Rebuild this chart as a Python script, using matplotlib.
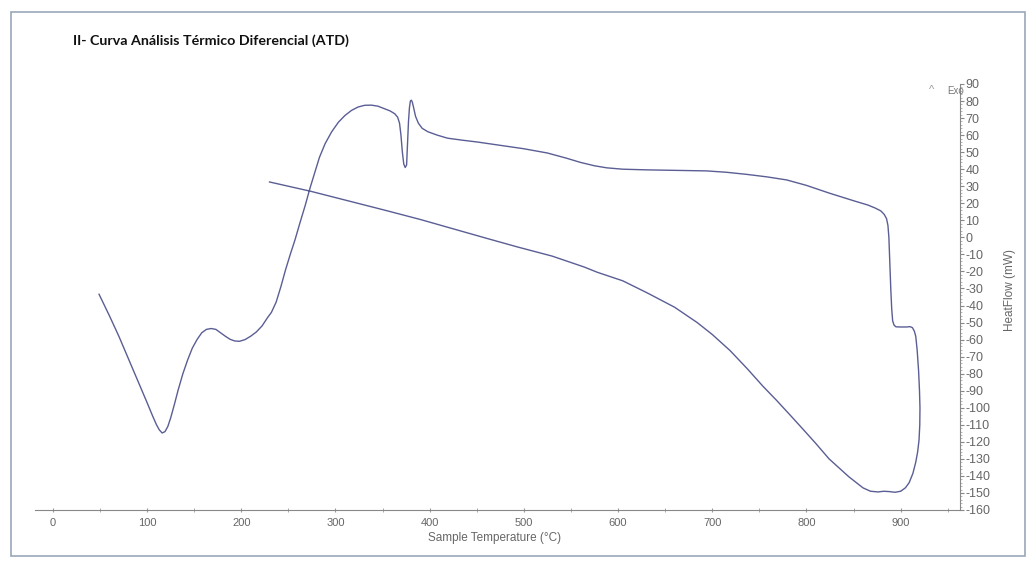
import numpy as np
import matplotlib.pyplot as plt
from matplotlib.patches import Rectangle
from matplotlib.ticker import MultipleLocator

plt.rcParams['axes.unicode_minus'] = False

# curva ATD (calentamiento y luego retorno)
temp = [49, 60, 70, 80, 90, 100, 106, 110, 113, 116, 119, 122, 125, 129, 133, 138,
        143, 148, 153, 158, 163, 168, 173, 178, 183, 188, 193, 198, 204, 210, 216,
        222, 228, 232, 237, 242, 247, 252, 257, 262, 268, 273, 278, 283, 289, 296,
        303, 310, 317, 324, 331, 338, 345, 352, 358, 363, 366, 368, 369.5, 371,
        372.5, 374, 375.5, 376.5, 377.5, 378.5, 379.5, 380.5, 381.5, 383, 385, 388,
        392, 398, 408, 419, 435, 450, 475, 500, 525, 545, 560, 575, 588, 605, 631,
        660, 694, 715, 736, 758, 779, 800, 824, 850, 865, 873, 879, 882.5, 885,
        886.5, 887.5, 888.5, 889.5, 890.5, 891.5, 893, 895, 900, 906, 910, 912.5,
        914.5, 916, 917.5, 919, 920, 920.5, 920.3, 919.5, 918, 916, 913, 909, 905,
        900, 894, 888, 882, 876, 868, 860, 853, 845, 838, 831, 824, 810, 797, 783,
        768, 754, 737, 719, 700, 684, 660, 631, 605, 578, 564, 530, 493, 460, 422,
        390, 352, 313, 274, 250, 230]
heatflow = [-33.4, -46, -58, -71, -84, -97, -105, -110, -113, -114.8, -114, -111,
            -106, -98, -89.5, -80, -72, -65, -60, -56, -54, -53.5, -54, -56, -58,
            -59.8, -60.8, -61, -60, -58, -55.5, -52, -47, -44, -38, -29, -19, -10,
            -1.5, 8, 19, 29, 38, 47, 55, 62, 67.5, 71.5, 74.5, 76.5, 77.5, 77.6, 77,
            75.5, 74.2, 72.5, 70.5, 67, 60, 50, 43, 41, 42.5, 55, 68, 76, 80, 80.5,
            79.5, 76, 71, 67, 64, 62, 60, 58.2, 57, 56, 54, 52, 49.5, 46.5, 44, 42,
            40.8, 40, 39.6, 39.3, 39, 38.2, 37, 35.5, 33.7, 30.5, 26, 21.5, 19, 17.2,
            15.5, 13.5, 11, 7, 0, -15, -30, -42, -49, -51.5, -52.5, -52.6, -52.6,
            -52.4, -53, -55, -58, -66, -78, -90, -100, -110, -119, -126, -132,
            -138.5, -144, -147, -149, -149.6, -149.2, -149, -149.4, -149, -147, -144,
            -140.5, -137, -133.5, -130, -121, -113, -104.5, -95.5, -87.5, -77, -66.5,
            -57, -50, -41, -32.6, -25.5, -20.5, -17.4, -11, -5.6, -0.5, 5.5, 10.5,
            16, 21.5, 27, 30, 32.5]

x_ticks = [0, 100, 200, 300, 400, 500, 600, 700, 800, 900]
y_ticks = list(range(-160, 91, 10))

fig = plt.figure(figsize=(10.34, 5.67), dpi=100)
ax = fig.add_axes([35 / 1034, 1 - 510 / 567, 925 / 1034, 426 / 567])

ax.plot(temp, heatflow, color='#5a5e94', linewidth=1.0)

ax.set_xlim(-19, 963)
ax.set_ylim(-160, 90)
ax.spines['top'].set_visible(False)
ax.spines['left'].set_visible(False)
ax.spines['right'].set_color('#888888')
ax.spines['bottom'].set_color('#888888')

ax.set_xticks(x_ticks)
ax.xaxis.set_minor_locator(MultipleLocator(50))
ax.tick_params(axis='x', which='both', direction='inout', length=3, color='#999999',
               labelsize=8, labelcolor='#666666', pad=4)
for lab in ax.get_xticklabels():
    lab.set_family('Liberation Sans')

ax.yaxis.tick_right()
ax.set_yticks(y_ticks)
ax.yaxis.set_minor_locator(MultipleLocator(2))
ax.tick_params(axis='y', which='major', direction='out', length=3, color='#888888',
               labelsize=9, labelcolor='#666666', pad=1)
ax.tick_params(axis='y', which='minor', direction='out', length=1.5, color='#aaaaaa')
for lab in ax.get_yticklabels():
    lab.set_family('Liberation Sans')

fig.text(495 / 1034, 1 - 538 / 567, 'Sample Temperature (°C)', ha='center', va='center',
         fontsize=8.5, color='#666666', family='Liberation Sans')
fig.text(1010 / 1034, 1 - 290 / 567, 'HeatFlow (mW)', rotation=90, ha='center',
         va='center', fontsize=8.5, color='#666666', family='Liberation Sans')
fig.text(932 / 1034, 1 - 90 / 567, '^', ha='center', va='center', fontsize=8,
         color='#999999', family='Liberation Sans')
fig.text(956 / 1034, 1 - 91 / 567, 'Exo', ha='center', va='center', fontsize=7,
         color='#777777', family='Liberation Sans')

fig.text(73 / 1034, 1 - 41 / 567, 'II- Curva Análisis Térmico Diferencial (ATD)',
         ha='left', va='center', fontsize=10.3, fontweight='bold', color='#111111',
         family='Lato')

fig.patches.append(Rectangle((11 / 1034, 1 - 556 / 567), 1014 / 1034, 544 / 567,
                             transform=fig.transFigure, fill=False,
                             edgecolor='#9aa8b8', linewidth=1.2))

fig.savefig('out.png', dpi=100)
